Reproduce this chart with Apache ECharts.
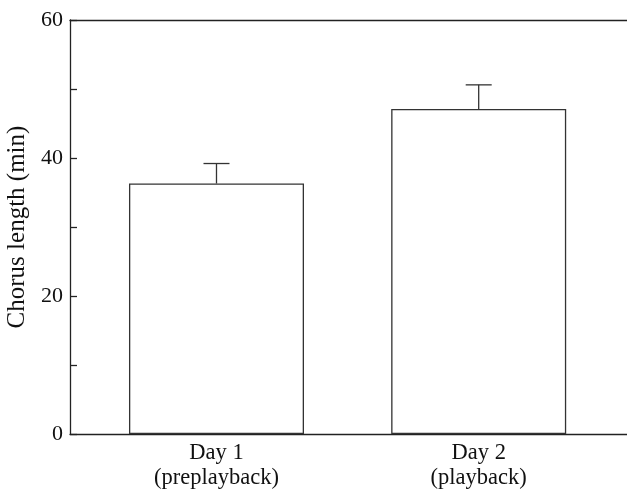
<!DOCTYPE html>
<html>
<head>
<meta charset="utf-8">
<script src="https://cdn.jsdelivr.net/npm/echarts@6/dist/echarts.min.js"></script>
<style>
html,body{margin:0;padding:0;background:#fff;}
#chart{width:627px;height:489px;}
</style>
</head>
<body>
<div id="chart"></div>
<script>
var categories = ['Day 1\n(preplayback)', 'Day 2\n(playback)'];
var positions = [1, 2];
var means = [36.3, 47.1];
var errors = [2.9, 3.5];
var yTicks = [0, 20, 40, 60];

var FONT = 'Liberation Serif';
var LINE = '#222';

var chart = echarts.init(document.getElementById('chart'));
var barData = positions.map(function (p, i) { return [p, means[i]]; });
var errData = positions.map(function (p, i) { return [p, means[i], means[i] + errors[i]]; });

chart.setOption({
  animation: false,
  backgroundColor: '#fff',
  grid: { left: 70, right: 0, top: 20, bottom: 55, containLabel: false, outerBoundsMode: 'none' },
  xAxis: [{
    type: 'value',
    min: 0.4413,
    max: 2.5656,
    splitLine: { show: false },
    axisLine: { show: true, onZero: false, lineStyle: { color: LINE, width: 1.3 } },
    axisTick: { show: false },
    axisLabel: {
      customValues: positions,
      formatter: function (v) {
        var i = positions.indexOf(Math.round(v));
        return i >= 0 ? categories[i] : '';
      },
      fontFamily: FONT, fontSize: 22.5, color: '#111', lineHeight: 25, margin: 7
    }
  }, {
    type: 'value',
    position: 'top',
    min: 0.4413,
    max: 2.5656,
    splitLine: { show: false },
    axisLine: { show: true, onZero: false, lineStyle: { color: LINE, width: 1.3 } },
    axisTick: { show: false },
    axisLabel: { show: false }
  }],
  yAxis: {
    type: 'value',
    min: 0, max: 60, interval: 20,
    name: 'Chorus length (min)',
    nameLocation: 'middle',
    nameGap: 40,
    nameTextStyle: { fontFamily: FONT, fontSize: 25, color: '#111' },
    splitLine: { show: false },
    axisLine: { show: true, lineStyle: { color: LINE, width: 1.3 } },
    axisTick: { show: true, inside: true, length: 7, lineStyle: { color: LINE, width: 1.3 } },
    minorTick: { show: true, splitNumber: 2, length: 7, lineStyle: { color: LINE, width: 1.3 } },
    axisLabel: {
      formatter: function (v) { return yTicks.indexOf(v) >= 0 ? String(v) : ''; },
      fontFamily: FONT, fontSize: 22, color: '#111', margin: 7
    }
  },
  series: [{
    type: 'bar',
    data: barData,
    barWidth: 175,
    itemStyle: { color: '#fff', borderColor: '#333', borderWidth: 1.3 },
    z: 2
  }, {
    type: 'custom',
    data: errData,
    z: 3,
    renderItem: function (params, api) {
      var base = api.coord([api.value(0), api.value(1)]);
      var top = api.coord([api.value(0), api.value(2)]);
      var hw = 13;
      return {
        type: 'group',
        children: [{
          type: 'line',
          shape: { x1: base[0], y1: base[1], x2: top[0], y2: top[1] },
          style: { stroke: '#333', lineWidth: 1.3 }
        }, {
          type: 'line',
          shape: { x1: top[0] - hw, y1: top[1], x2: top[0] + hw, y2: top[1] },
          style: { stroke: '#333', lineWidth: 1.3 }
        }]
      };
    }
  }]
});
</script>
</body>
</html>
